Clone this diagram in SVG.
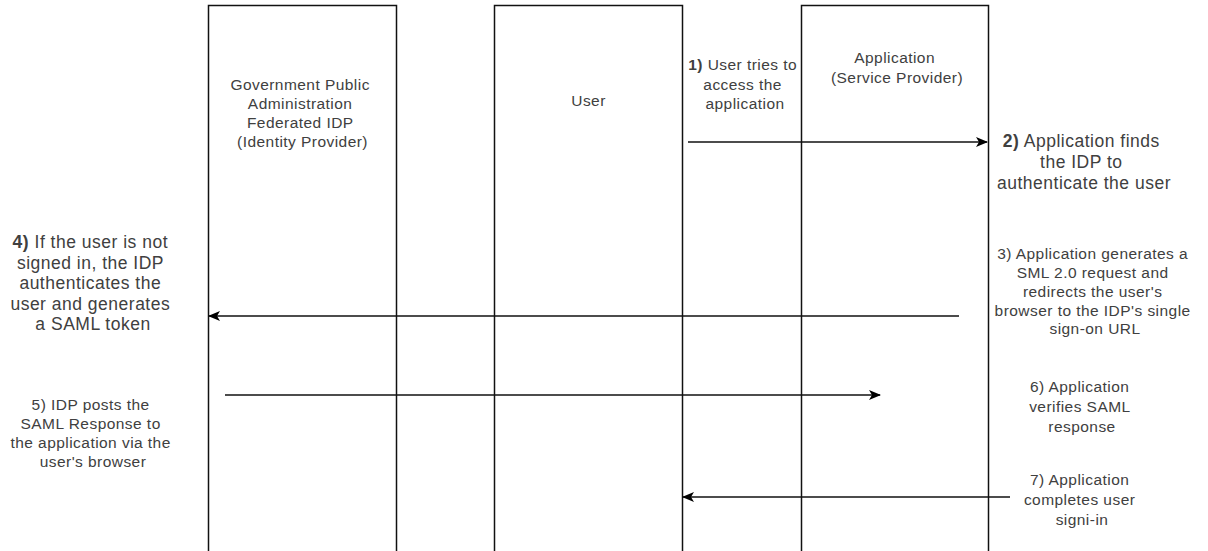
<svg xmlns="http://www.w3.org/2000/svg" width="1208" height="551" viewBox="0 0 1208 551">
  <style>
    .lane { fill: #ffffff; stroke: #111111; stroke-width: 1.5; }
    .txt { font-family: "Liberation Sans", Arial, Helvetica, sans-serif; font-size: 15.5px; letter-spacing: 0.45px; fill: #404040; text-anchor: middle; }
    .big { font-size: 17.5px; letter-spacing: 0.5px; }
    .num { font-weight: bold; }
    .flow { stroke: #111111; stroke-width: 1.5; fill: none; marker-end: url(#arrow); }
  </style>
  <defs>
    <marker id="arrow" viewBox="0 0 12 10" refX="11" refY="5" markerWidth="12" markerHeight="10" markerUnits="userSpaceOnUse" orient="auto">
      <path d="M0,0 L12,5 L0,10 L3,5 Z" fill="#000000"/>
    </marker>
  </defs>

  <rect width="1208" height="551" fill="#ffffff"/>

  <!-- swimlane columns -->
  <g id="node-idp">
    <rect class="lane" x="208.5" y="5.5" width="188" height="560"/>
    <text class="txt">
      <tspan x="302.5" y="89.5">Government Public</tspan>
      <tspan x="302.5" y="108.5">Administration</tspan>
      <tspan x="302.5" y="127.5">Federated IDP</tspan>
      <tspan x="302.5" y="146.5">(Identity Provider)</tspan>
    </text>
  </g>
  <g id="node-user">
    <rect class="lane" x="494.5" y="5.5" width="188" height="560"/>
    <text class="txt" x="588.5" y="105.5">User</text>
  </g>
  <g id="node-app">
    <rect class="lane" x="801.5" y="5.5" width="187" height="560"/>
    <text class="txt">
      <tspan x="897" y="62.5">Application</tspan>
      <tspan x="897" y="83">(Service Provider)</tspan>
    </text>
  </g>

  <!-- message arrows -->
  <g id="connectors">
    <line class="flow" x1="688" y1="142" x2="987" y2="142"/>
    <line class="flow" x1="959" y1="316" x2="209" y2="316"/>
    <line class="flow" x1="225" y1="395" x2="880" y2="395"/>
    <line class="flow" x1="1010" y1="497" x2="683" y2="497"/>
  </g>

  <!-- step descriptions -->
  <g id="labels">
    <text id="step1" class="txt">
      <tspan x="745" y="69.5"><tspan class="num">1)</tspan> User tries to</tspan>
      <tspan x="745" y="89.5">access the</tspan>
      <tspan x="745" y="109">application</tspan>
    </text>
    <text id="step2" class="txt big">
      <tspan x="1084" y="146.5"><tspan class="num">2)</tspan> Application finds</tspan>
      <tspan x="1084" y="167.5">the IDP to</tspan>
      <tspan x="1084" y="188.5">authenticate the user</tspan>
    </text>
    <text id="step3" class="txt">
      <tspan x="1095" y="258.5">3) Application generates a</tspan>
      <tspan x="1095" y="277.5">SML 2.0 request and</tspan>
      <tspan x="1095" y="296.5">redirects the user's</tspan>
      <tspan x="1095" y="315.5">browser to the IDP's single</tspan>
      <tspan x="1095" y="334">sign-on URL</tspan>
    </text>
    <text id="step4" class="txt big">
      <tspan x="93" y="248"><tspan class="num">4)</tspan> If the user is not</tspan>
      <tspan x="93" y="268.5">signed in, the IDP</tspan>
      <tspan x="93" y="289">authenticates the</tspan>
      <tspan x="93" y="309.5">user and generates</tspan>
      <tspan x="93" y="330">a SAML token</tspan>
    </text>
    <text id="step5" class="txt">
      <tspan x="93" y="409.5">5) IDP posts the</tspan>
      <tspan x="93" y="428.5">SAML Response to</tspan>
      <tspan x="93" y="447.5">the application via the</tspan>
      <tspan x="93" y="466.5">user's browser</tspan>
    </text>
    <text id="step6" class="txt">
      <tspan x="1082" y="391.5">6) Application</tspan>
      <tspan x="1082" y="411.5">verifies SAML</tspan>
      <tspan x="1082" y="431.5">response</tspan>
    </text>
    <text id="step7" class="txt">
      <tspan x="1082" y="485">7) Application</tspan>
      <tspan x="1082" y="505">completes user</tspan>
      <tspan x="1082" y="524.5">signi-in</tspan>
    </text>
  </g>
</svg>
